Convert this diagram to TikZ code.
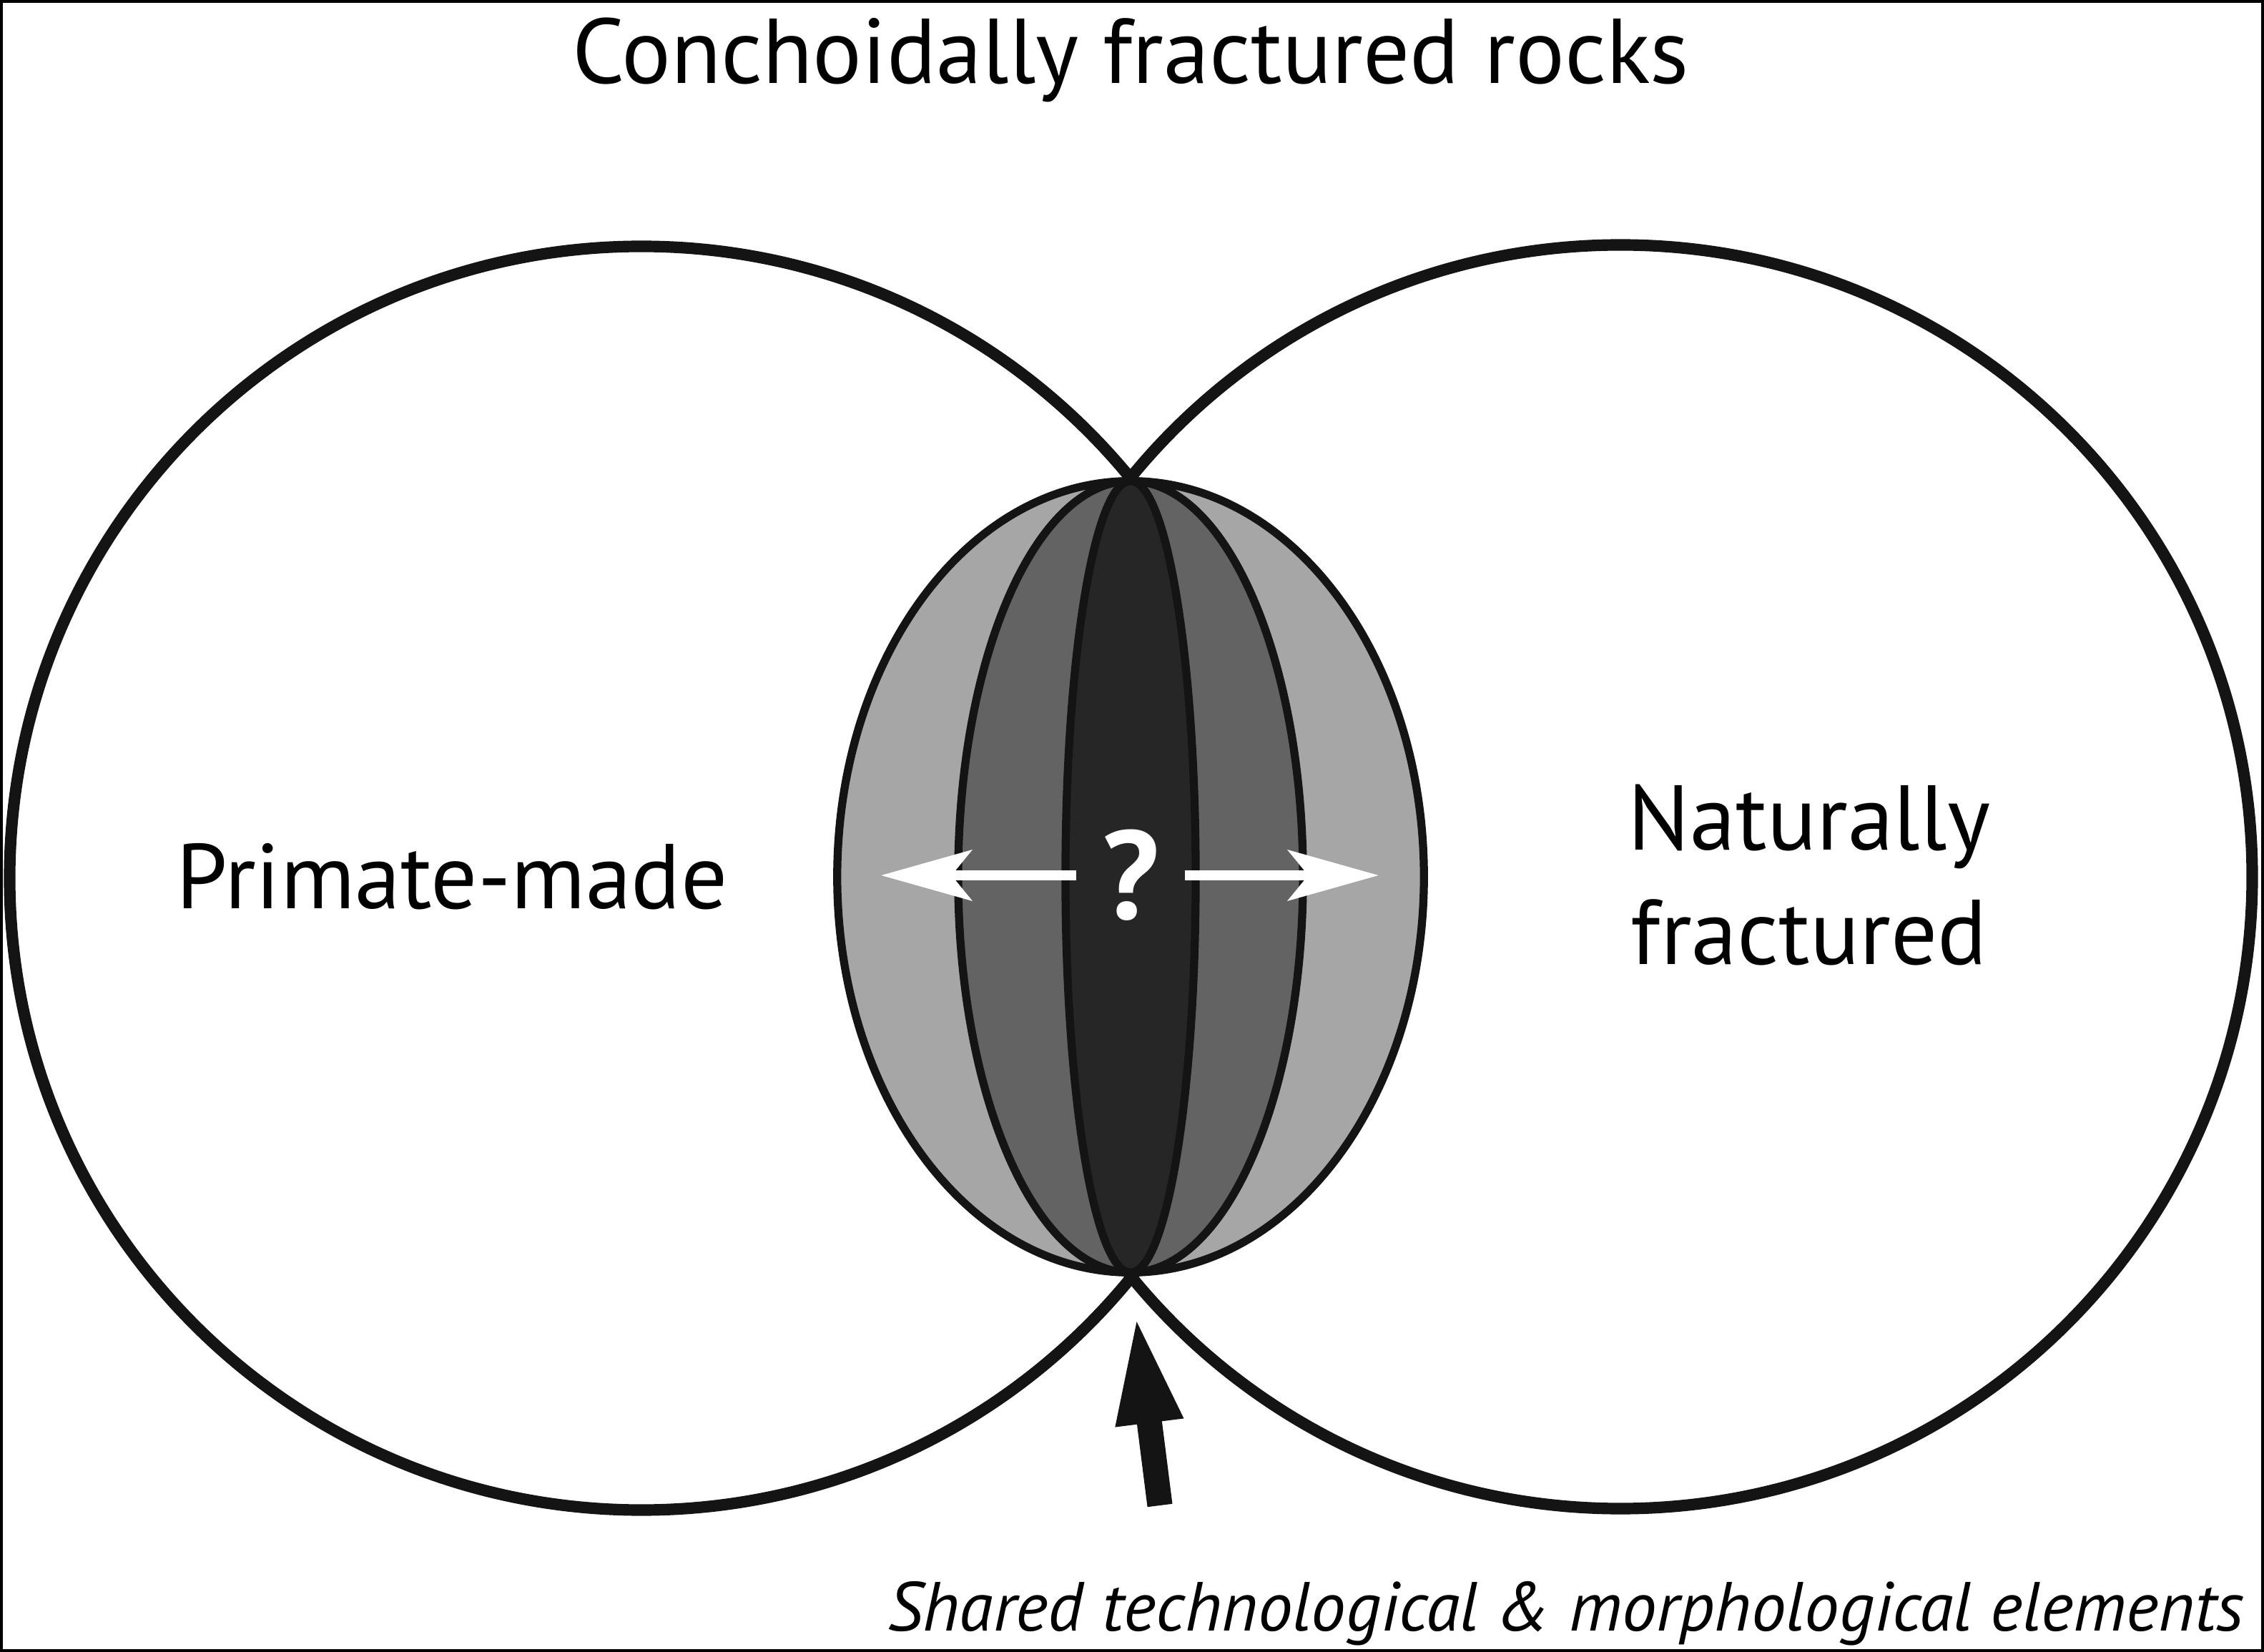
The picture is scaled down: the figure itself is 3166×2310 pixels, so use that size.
\documentclass[tikz,border=0pt]{standalone}
\usepackage{fontspec}
\setmainfont{PT Sans}
\usetikzlibrary{arrows.meta}
\definecolor{bandlight}{gray}{0.65}
\definecolor{bandmid}{gray}{0.39}
\definecolor{banddark}{gray}{0.15}
\def\band#1#2{\draw [line width=3.2pt,draw=black!92,fill=#2] (lens) ellipse [x radius=#1, y radius=5.53cm];}

\begin{document}
\begin{tikzpicture}[x=0.01cm,y=-0.01cm,
  set/.style={line width=4.6pt,draw=black!92},
  label/.style={font=\fontsize{36.6}{45.5}\selectfont,align=center,inner sep=0pt},
  push/.style={white,line width=4pt,-{Stealth[length=36pt,width=20pt,inset=8pt]}}]
\useasboundingbox (0,0) rectangle (3166,2310);
\draw[line width=1.1pt] (2,2) rectangle (3164,2308);
\coordinate (primate) at (897,1228);
\coordinate (natural) at (2266,1226);
\coordinate (lens) at (1581,1226);
\draw[set] (primate) circle [radius=8.83cm];
\draw[set] (natural) circle [radius=8.83cm];
% the three bands of the overlap
\band{4.10cm}{bandlight}
\band{2.41cm}{bandmid}
\band{0.91cm}{banddark}
\node[white,font=\fontsize{50}{52}\selectfont\bfseries,inner sep=0pt,minimum width=1.5cm] (quest) at (1581,1224) {?};
\coordinate (qleft) at (1232,1224);
\coordinate (qright) at (1928,1224);
\draw[push] (quest) -- (qleft);
\draw[push] (quest) -- (qright);
\coordinate (tail) at (1622,2105);
\coordinate (tip) at (1588,1836);
\draw[line width=10pt,black!92,-{Triangle[length=44pt,width=24pt]}] (tail) -- (tip);
\node[label,anchor=base] (title) at (1581,117) {Conchoidally fractured rocks};
\node[label,anchor=base] (made) at (632,1271) {Primate-made};
\node[label,anchor=south] (nature) at (2530,1351) {Naturally\\fractured};
\node[label,anchor=base,font=\fontsize{27.6}{30}\selectfont\itshape] (shared) at (2190,2280) {Shared technological \& morphological elements};
\end{tikzpicture}
\end{document}
